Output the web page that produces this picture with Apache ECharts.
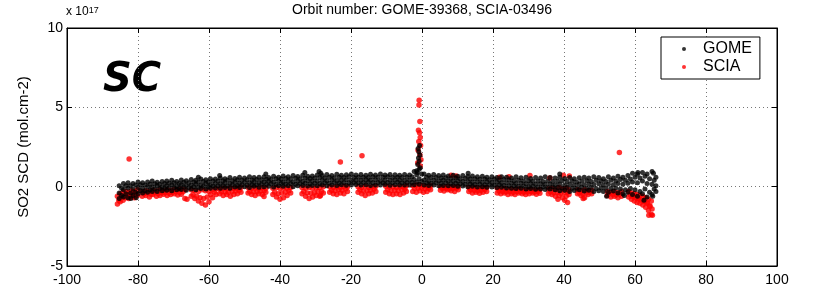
<!DOCTYPE html>
<html>
<head>
<meta charset="utf-8">
<script src="https://cdn.jsdelivr.net/npm/echarts@6/dist/echarts.min.js"></script>
<style>
  html, body { margin: 0; padding: 0; background: #fff; }
  #myChart { width: 814px; height: 291px; }
</style>
</head>
<body>
<div id="myChart"></div>
<script>
// SO2 slant columns (units of 1e17 mol.cm-2) against latitude
// GOME: rows of ground pixels (upper, middle, lower part of the band)
var gomeLat = [
  -85.3, -84.1, -82.8, -81.4, -80.0, -78.7, -77.3, -76.0, -74.6, -73.2,
  -71.9, -70.5, -69.1, -67.8, -66.4, -65.0, -63.7, -62.3, -60.9, -59.6,
  -58.2, -56.8, -55.5, -54.1, -52.7, -51.4, -50.0, -48.6, -47.3, -45.9,
  -44.5, -43.2, -41.8, -40.4, -39.1, -37.7, -36.3, -35.0, -33.6, -32.2,
  -30.9, -29.5, -28.1, -26.8, -25.4, -24.0, -22.7, -21.3, -19.9, -18.6,
  -17.2, -15.8, -14.5, -13.1, -11.7, -10.4, -9.0, -7.6, -6.3, -4.9,
  -3.5, -2.2, -0.8, 0.6, 1.9, 3.3, 4.7, 6.0, 7.4, 8.8,
  10.1, 11.5, 12.9, 14.2, 15.6, 17.0, 18.3, 19.7, 21.1, 22.4,
  23.8, 25.2, 26.5, 27.9, 29.3, 30.6, 32.0, 33.4, 34.7, 36.1,
  37.5, 38.8, 40.2, 41.6, 42.9, 44.3, 45.7, 47.0, 48.4, 49.8,
  51.1, 52.5, 53.9, 55.2, 56.6, 58.0, 59.3, 60.7, 62.1, 63.4,
  64.8, 65.9
];
var gomeHigh = [
  0.05, 0.2, 0.25, 0.2, 0.3, 0.25, 0.3, 0.35, 0.28, 0.33,
  0.35, 0.4, 0.33, 0.42, 0.38, 0.45, 0.4, 0.48, 0.43, 0.5,
  0.48, 0.55, 0.5, 0.58, 0.52, 0.6, 0.55, 0.62, 0.57, 0.6,
  0.63, 0.58, 0.66, 0.6, 0.68, 0.62, 0.7, 0.64, 0.72, 0.66,
  0.68, 0.74, 0.7, 0.76, 0.7, 0.78, 0.72, 0.75, 0.8, 0.73,
  0.76, 0.72, 0.78, 0.74, 0.8, 0.73, 0.77, 0.75, 0.72, 0.76,
  0.74, 0.95, 1.1, 0.8, 0.72, 0.76, 0.7, 0.74, 0.68, 0.72,
  0.66, 0.7, 0.64, 0.68, 0.62, 0.66, 0.6, 0.63, 0.58, 0.62,
  0.6, 0.55, 0.62, 0.56, 0.6, 0.52, 0.58, 0.55, 0.62, 0.58,
  0.55, 0.6, 0.52, 0.58, 0.5, 0.56, 0.6, 0.54, 0.62, 0.58,
  0.5, 0.62, 0.55, 0.66, 0.6, 0.7, 0.85, 0.78, 0.9, 0.8,
  0.95, 0.6
];
var gomeMid = [
  -0.4, -0.2, -0.1, -0.15, -0.05, -0.1, 0.0, -0.02, 0.05, 0.0,
  0.05, 0.1, 0.02, 0.12, 0.08, 0.1, 0.15, 0.1, 0.18, 0.12,
  0.2, 0.18, 0.25, 0.2, 0.26, 0.22, 0.28, 0.24, 0.3, 0.25,
  0.3, 0.32, 0.28, 0.35, 0.3, 0.34, 0.3, 0.36, 0.32, 0.38,
  0.38, 0.35, 0.4, 0.37, 0.42, 0.38, 0.4, 0.44, 0.39, 0.42,
  0.41, 0.44, 0.4, 0.43, 0.38, 0.42, 0.4, 0.44, 0.41, 0.39,
  0.4, 0.45, 0.5, 0.42, 0.38, 0.41, 0.37, 0.4, 0.36, 0.38,
  0.34, 0.32, 0.33, 0.3, 0.31, 0.28, 0.3, 0.26, 0.28, 0.25,
  0.24, 0.22, 0.2, 0.21, 0.18, 0.2, 0.16, 0.18, 0.15, 0.17,
  0.12, 0.15, 0.1, 0.14, 0.1, 0.16, 0.12, 0.15, 0.13, 0.18,
  0.1, 0.15, 0.12, 0.2, 0.15, 0.22, 0.3, 0.25, 0.35, 0.2,
  0.15, 0.05
];
var gomeLow = [
  -0.75, -0.65, -0.7, -0.55, -0.45, -0.4, -0.35, -0.3, -0.3, -0.25,
  -0.22, -0.25, -0.2, -0.18, -0.22, -0.15, -0.2, -0.12, -0.15, -0.1,
  -0.08, -0.1, -0.05, -0.1, -0.02, -0.06, 0.0, -0.05, 0.02, -0.03,
  0.0, 0.03, -0.02, 0.05, 0.02, 0.06, 0.0, 0.05, 0.08, 0.04,
  0.08, 0.05, 0.1, 0.06, 0.1, 0.08, 0.12, 0.09, 0.1, 0.13,
  0.1, 0.12, 0.08, 0.11, 0.1, 0.13, 0.09, 0.12, 0.1, 0.11,
  0.1, 0.12, 0.15, 0.1, 0.08, 0.1, 0.06, 0.08, 0.05, 0.07,
  0.02, 0.04, 0.0, 0.03, -0.02, 0.0, -0.04, -0.02, -0.06, -0.03,
  -0.08, -0.1, -0.12, -0.1, -0.15, -0.12, -0.16, -0.14, -0.18, -0.15,
  -0.2, -0.25, -0.22, -0.3, -0.24, -0.2, -0.28, -0.22, -0.3, -0.25,
  -0.3, -0.35, -0.28, -0.4, -0.45, -0.35, -0.5, -0.6, -0.45, -0.65,
  -0.5, -0.3
];
// second, staggered set of GOME pixels
var gomeLat2 = [
  -84.6, -83.4, -82.1, -80.7, -79.3, -78.0, -76.6, -75.3, -73.9, -72.5,
  -71.2, -69.8, -68.4, -67.1, -65.7, -64.3, -63.0, -61.6, -60.2, -58.9,
  -57.5, -56.1, -54.8, -53.4, -52.0, -50.7, -49.3, -47.9, -46.6, -45.2,
  -43.8, -42.5, -41.1, -39.7, -38.4, -37.0, -35.6, -34.3, -32.9, -31.5,
  -30.2, -28.8, -27.4, -26.1, -24.7, -23.3, -22.0, -20.6, -19.2, -17.9,
  -16.5, -15.1, -13.8, -12.4, -11.0, -9.7, -8.3, -6.9, -5.6, -4.2,
  -2.8, -1.5, -0.1, 1.3, 2.6, 4.0, 5.4, 6.7, 8.1, 9.5,
  10.8, 12.2, 13.6, 14.9, 16.3, 17.7, 19.0, 20.4, 21.8, 23.1,
  24.5, 25.9, 27.2, 28.6, 30.0, 31.3, 32.7, 34.1, 35.4, 36.8,
  38.2, 39.5, 40.9, 42.3, 43.6, 45.0, 46.4, 47.7, 49.1, 50.5,
  51.8, 53.2, 54.6, 55.9, 57.3, 58.7, 60.0, 61.4, 62.8, 64.1,
  65.4
];
var gomeUp2 = [
  -0.1, 0.05, 0.05, 0.1, 0.12, 0.1, 0.15, 0.18, 0.15, 0.2,
  0.22, 0.25, 0.2, 0.28, 0.25, 0.3, 0.28, 0.32, 0.3, 0.35,
  0.35, 0.38, 0.4, 0.37, 0.42, 0.4, 0.44, 0.42, 0.45, 0.43,
  0.47, 0.45, 0.5, 0.48, 0.52, 0.5, 0.53, 0.5, 0.55, 0.52,
  0.55, 0.58, 0.54, 0.6, 0.56, 0.6, 0.58, 0.62, 0.58, 0.6,
  0.6, 0.58, 0.62, 0.59, 0.6, 0.62, 0.58, 0.6, 0.57, 0.6,
  0.62, 0.75, 0.8, 0.6, 0.58, 0.57, 0.55, 0.56, 0.52, 0.54,
  0.5, 0.52, 0.48, 0.5, 0.46, 0.48, 0.44, 0.46, 0.42, 0.45,
  0.42, 0.38, 0.4, 0.36, 0.38, 0.34, 0.36, 0.33, 0.36, 0.32,
  0.34, 0.38, 0.32, 0.36, 0.3, 0.35, 0.38, 0.33, 0.4, 0.36,
  0.32, 0.4, 0.35, 0.45, 0.4, 0.48, 0.6, 0.55, 0.65, 0.5,
  0.4
];
var gomeDn2 = [
  -0.55, -0.45, -0.4, -0.35, -0.25, -0.25, -0.2, -0.15, -0.12, -0.1,
  -0.08, -0.05, -0.1, -0.02, -0.05, 0.0, -0.04, 0.02, 0.0, 0.04,
  0.05, 0.08, 0.06, 0.1, 0.08, 0.12, 0.1, 0.13, 0.12, 0.15,
  0.15, 0.18, 0.14, 0.2, 0.17, 0.2, 0.16, 0.2, 0.22, 0.19,
  0.22, 0.2, 0.25, 0.22, 0.26, 0.23, 0.26, 0.24, 0.27, 0.25,
  0.26, 0.28, 0.25, 0.27, 0.24, 0.27, 0.25, 0.28, 0.24, 0.26,
  0.26, 0.3, 0.32, 0.25, 0.22, 0.25, 0.22, 0.24, 0.2, 0.22,
  0.18, 0.16, 0.17, 0.14, 0.15, 0.12, 0.13, 0.1, 0.12, 0.08,
  0.06, 0.05, 0.02, 0.04, 0.0, 0.03, -0.02, 0.0, -0.03, 0.0,
  -0.05, -0.08, -0.06, -0.1, -0.08, -0.04, -0.1, -0.06, -0.12, -0.08,
  -0.1, -0.12, -0.08, -0.15, -0.2, -0.12, -0.2, -0.3, -0.15, -0.35,
  -0.15
];
// GOME volcanic spike near the equator and scattered single pixels
var gomeExtra = [
  [-1.5, 1.0], [-1.2, 1.4], [-1.0, 1.8], [-0.9, 2.2], [-0.7, 2.6], [-0.8, 1.6],
  [-0.5, 1.2], [-1.3, 0.9], [-0.6, 2.0], [-1.1, 2.4],
  [-29.0, 0.95], [-28.5, 0.85], [-33.0, 0.9], [-44.0, 0.8], [-63.0, 0.6], [-57.0, 0.7],
  [13.0, 0.85], [38.8, 0.8], [60.8, 0.9], [65.2, 0.85],
  [-82.0, -0.75], [-80.5, -0.7], [57.0, -0.55], [52.0, -0.6], [62.5, -0.85], [65.0, -0.6]
];

// SCIA: patches below the GOME band (upper and lower edge of each patch)
var sciaLat = [
  -85.8, -85.0, -84.2, -83.4, -82.6, -81.8, -81.0, -80.2,
  -78.8, -77.8, -76.8, -75.8, -74.8, -73.8, -72.8, -71.8, -70.8, -69.8, -68.8, -67.8, -66.8,
  -65.0, -64.0, -63.0, -62.0, -61.0, -60.0, -59.0, -58.0,
  -57.0, -56.0, -55.0, -54.0, -53.0, -52.0, -51.0,
  -49.0, -48.0, -47.0, -46.0, -45.0, -44.0,
  -42.0, -41.0, -40.0, -39.0, -38.0, -37.0,
  -33.8, -32.8, -31.8, -30.8, -29.8, -28.8, -27.8,
  -26.0, -25.0, -24.0, -23.0, -22.0, -21.0,
  -18.0, -17.0, -16.0, -15.0, -14.0, -13.0,
  -10.2, -9.2, -8.2, -7.2, -6.2, -5.2, -4.4,
  -2.6, -1.6, -0.6, 0.4, 1.4, 2.4,
  5.2, 6.2, 7.2, 8.2, 9.2, 10.2,
  13.2, 14.2, 15.2, 16.2, 17.2, 18.2,
  21.2, 22.2, 23.2, 24.2, 25.2, 26.2, 27.2, 28.2, 29.2, 30.2, 31.2, 32.2, 33.2,
  35.6, 36.6, 37.6, 38.6, 39.6, 40.6, 41.4,
  43.8, 44.8, 45.8, 46.8, 47.8,
  52.2, 53.2, 54.2, 55.2, 56.2,
  58.2, 59.0, 59.8, 60.6, 61.4, 62.2, 63.0, 63.8, 64.6
];
var sciaUp = [
  -0.6, -0.45, -0.35, -0.3, -0.35, -0.25, -0.3, -0.2,
  -0.3, -0.25, -0.3, -0.22, -0.28, -0.2, -0.25, -0.2, -0.22, -0.18, -0.2, -0.15, -0.2,
  -0.2, -0.25, -0.3, -0.2, -0.25, -0.3, -0.2, -0.15,
  -0.15, -0.1, -0.15, -0.08, -0.12, -0.1, -0.05,
  -0.05, -0.1, -0.08, -0.12, -0.05, -0.1,
  -0.1, -0.05, -0.12, -0.08, -0.1, -0.05,
  -0.05, -0.1, -0.05, -0.1, -0.08, -0.05, 0.0,
  0.0, -0.05, 0.0, -0.05, 0.02, 0.0,
  0.0, -0.05, 0.02, -0.05, 0.0, 0.02,
  0.02, -0.02, 0.0, -0.05, 0.0, -0.02, 0.05,
  0.05, 0.1, 0.1, 0.05, 0.02, 0.05,
  0.0, -0.02, 0.02, 0.0, -0.02, 0.0,
  -0.05, -0.08, -0.05, -0.1, -0.06, -0.05,
  -0.1, -0.15, -0.12, -0.18, -0.15, -0.2, -0.15, -0.2, -0.22, -0.18, -0.2, -0.22, -0.18,
  -0.15, -0.1, -0.2, -0.05, -0.15, -0.1, -0.2,
  -0.2, -0.25, -0.2, -0.28, -0.22,
  -0.3, -0.35, -0.3, -0.38, -0.32,
  -0.3, -0.4, -0.45, -0.5, -0.55, -0.6, -0.7, -0.8, -0.9
];
var sciaDown = [
  -1.1, -0.95, -0.85, -0.7, -0.75, -0.65, -0.7, -0.55,
  -0.6, -0.55, -0.65, -0.5, -0.6, -0.55, -0.48, -0.55, -0.5, -0.45, -0.52, -0.48, -0.75,
  -0.6, -0.75, -0.9, -1.05, -1.15, -0.95, -0.7, -0.5,
  -0.45, -0.55, -0.5, -0.6, -0.5, -0.45, -0.35,
  -0.4, -0.5, -0.55, -0.45, -0.5, -0.35,
  -0.5, -0.65, -0.8, -0.7, -0.55, -0.4,
  -0.45, -0.6, -0.75, -0.65, -0.55, -0.6, -0.4,
  -0.35, -0.45, -0.5, -0.4, -0.45, -0.3,
  -0.35, -0.45, -0.55, -0.45, -0.4, -0.3,
  -0.35, -0.45, -0.5, -0.45, -0.5, -0.4, -0.3,
  -0.3, -0.35, -0.25, -0.35, -0.3, -0.2,
  -0.22, -0.28, -0.2, -0.25, -0.3, -0.2,
  -0.3, -0.4, -0.35, -0.42, -0.35, -0.3,
  -0.4, -0.45, -0.4, -0.5, -0.45, -0.5, -0.4, -0.45, -0.5, -0.45, -0.4, -0.48, -0.42,
  -0.45, -0.5, -0.6, -0.55, -0.7, -0.6, -0.5,
  -0.45, -0.55, -0.7, -0.5, -0.45,
  -0.55, -0.65, -0.6, -0.7, -0.6,
  -0.65, -0.8, -0.9, -1.0, -1.05, -1.15, -1.3, -1.5, -1.75
];
// staggered middle row of each SCIA patch
var sciaLat2 = [
  -85.4, -84.6, -83.8, -83.0, -82.2, -81.4, -80.6,
  -78.3, -77.3, -76.3, -75.3, -74.3, -73.3, -72.3, -71.3, -70.3, -69.3, -68.3, -67.3,
  -64.5, -63.5, -62.5, -61.5, -60.5, -59.5, -58.5,
  -56.5, -55.5, -54.5, -53.5, -52.5, -51.5,
  -48.5, -47.5, -46.5, -45.5, -44.5,
  -41.5, -40.5, -39.5, -38.5, -37.5,
  -33.3, -32.3, -31.3, -30.3, -29.3, -28.3,
  -25.5, -24.5, -23.5, -22.5, -21.5,
  -17.5, -16.5, -15.5, -14.5, -13.5,
  -9.7, -8.7, -7.7, -6.7, -5.7, -4.8,
  -2.1, -1.1, -0.1, 0.9, 1.9,
  5.7, 6.7, 7.7, 8.7, 9.7,
  13.7, 14.7, 15.7, 16.7, 17.7,
  21.7, 22.7, 23.7, 24.7, 25.7, 26.7, 27.7, 28.7, 29.7, 30.7, 31.7, 32.7,
  36.1, 37.1, 38.1, 39.1, 40.1, 41.0,
  44.3, 45.3, 46.3, 47.3,
  52.7, 53.7, 54.7, 55.7,
  58.6, 59.4, 60.2, 61.0, 61.8, 62.6, 63.4, 64.2
];
var sciaMid = [
  -0.85, -0.7, -0.6, -0.5, -0.55, -0.45, -0.45,
  -0.45, -0.4, -0.48, -0.36, -0.44, -0.38, -0.36, -0.4, -0.36, -0.32, -0.36, -0.32,
  -0.5, -0.6, -0.7, -0.75, -0.65, -0.5, -0.35,
  -0.32, -0.33, -0.35, -0.3, -0.28, -0.22,
  -0.3, -0.32, -0.3, -0.28, -0.25,
  -0.35, -0.45, -0.4, -0.35, -0.25,
  -0.3, -0.4, -0.42, -0.38, -0.3, -0.3,
  -0.22, -0.25, -0.2, -0.22, -0.15,
  -0.2, -0.28, -0.25, -0.22, -0.15,
  -0.2, -0.25, -0.22, -0.25, -0.2, -0.15,
  -0.12, -0.1, -0.08, -0.15, -0.1,
  -0.12, -0.1, -0.14, -0.12, -0.1,
  -0.2, -0.22, -0.25, -0.22, -0.18,
  -0.28, -0.3, -0.32, -0.3, -0.35, -0.3, -0.32, -0.35, -0.32, -0.3, -0.34, -0.3,
  -0.3, -0.38, -0.35, -0.42, -0.38, -0.35,
  -0.38, -0.45, -0.4, -0.35,
  -0.45, -0.48, -0.52, -0.48,
  -0.5, -0.6, -0.7, -0.78, -0.85, -0.95, -1.05, -1.25
];
// SCIA spike, outliers and stray pixels above / below the band
var sciaExtra = [
  [-0.8, 5.45], [-0.85, 5.15], [-0.6, 4.1], [-1.0, 3.55], [-0.7, 3.4], [-0.5, 3.1],
  [-0.9, 2.85], [-0.4, 2.6], [-1.1, 2.3], [-0.6, 2.0], [-0.3, 1.7], [-1.2, 1.5], [-0.5, 1.3],
  [-82.5, 1.75], [-23.0, 1.55], [-16.9, 1.95], [55.6, 2.15],
  [8.2, 0.72], [9.6, 0.68], [21.8, 0.6], [24.5, 0.62], [30.4, 0.7], [36.0, 0.55],
  [39.8, 0.72], [41.5, 0.68],
  [-66.2, -0.8], [-44.5, -0.62], [-28.6, -0.55], [38.3, -0.8], [40.2, -0.85],
  [41.0, -1.0], [45.4, -0.75],
  [59.5, -0.6], [61.0, -0.75], [62.6, -0.9], [63.4, -1.0], [64.2, -1.2], [64.8, -1.4],
  [63.9, -1.8], [64.9, -1.8]
];

var gomeData = [];
gomeLat.forEach(function (lat, i) {
  gomeData.push([lat, gomeHigh[i]], [lat, gomeMid[i]], [lat, gomeLow[i]]);
});
gomeLat2.forEach(function (lat, i) {
  gomeData.push([lat, gomeUp2[i]], [lat, gomeDn2[i]]);
});
gomeData = gomeData.concat(gomeExtra);

var sciaData = [];
sciaLat.forEach(function (lat, i) {
  sciaData.push([lat, sciaUp[i]], [lat, sciaDown[i]]);
});
sciaLat2.forEach(function (lat, i) {
  sciaData.push([lat, sciaMid[i]]);
});
sciaData = sciaData.concat(sciaExtra);

var font = '"Liberation Sans", Arial, sans-serif';
var myChart = echarts.init(document.getElementById('myChart'));

// inner ticks on all four sides, box round the plot
var tickStyle = { show: true, inside: true, length: 5, lineStyle: { color: '#000' } };
var lineStyle = { show: true, onZero: false, lineStyle: { color: '#000' } };
var gridDots = { show: true, lineStyle: { color: '#777', type: [1, 3] } };

myChart.setOption({
  animation: false,
  backgroundColor: '#fff',
  grid: { left: 67, right: 37, top: 28, bottom: 25, show: true, borderColor: '#000', borderWidth: 1 },
  legend: {
    data: ['GOME', 'SCIA'],
    orient: 'vertical',
    left: 661, top: 37,
    backgroundColor: '#fff',
    borderColor: '#000', borderWidth: 1, borderRadius: 0,
    padding: [4, 8, 4, 21],
    itemGap: 2,
    itemWidth: 4, itemHeight: 4,
    icon: 'circle',
    textStyle: { fontFamily: font, fontSize: 16, color: '#000', padding: [0, 0, 0, 12] }
  },
  xAxis: [{
    type: 'value', min: -100, max: 100, interval: 20, position: 'bottom',
    axisLine: lineStyle, axisTick: tickStyle,
    axisLabel: { color: '#000', fontSize: 14, fontFamily: font, margin: 7 },
    splitLine: gridDots
  }, {
    type: 'value', min: -100, max: 100, interval: 20, position: 'top',
    axisLine: lineStyle, axisTick: tickStyle,
    axisLabel: { show: false }, splitLine: { show: false }
  }],
  yAxis: [{
    type: 'value', min: -5, max: 10, interval: 5, position: 'left',
    name: 'SO2 SCD (mol.cm-2)', nameLocation: 'middle', nameGap: 36, nameRotate: 90,
    nameTextStyle: { color: '#000', fontSize: 15, fontFamily: font },
    axisLine: lineStyle, axisTick: tickStyle,
    axisLabel: { color: '#000', fontSize: 14, fontFamily: font, margin: 4 },
    splitLine: gridDots
  }, {
    type: 'value', min: -5, max: 10, interval: 5, position: 'right',
    axisLine: lineStyle, axisTick: tickStyle,
    axisLabel: { show: false }, splitLine: { show: false }
  }],
  graphic: [
    { type: 'text', x: 422, y: 3,
      style: { text: 'Orbit number: GOME-39368, SCIA-03496', font: '14px ' + font, fill: '#000', align: 'center', textAlign: 'center' } },
    { type: 'text', left: 66, top: 6,
      style: { text: '{a|x 10}{b|17}', fill: '#000',
        rich: { a: { font: '12px ' + font, verticalAlign: 'bottom' }, b: { font: '9px ' + font, verticalAlign: 'top' } } } },
    { type: 'text', left: 103, top: 61,
      style: { text: 'SC', font: 'italic bold 40px "DejaVu Sans", sans-serif', fill: '#000' } }
  ],
  series: [{
    name: 'GOME', type: 'scatter', data: gomeData, z: 4,
    symbol: 'circle', symbolSize: 5,
    itemStyle: { color: '#000' }
  }, {
    name: 'SCIA', type: 'scatter', data: sciaData, z: 3,
    symbol: 'circle', symbolSize: 5.5,
    itemStyle: { color: '#ff0000' }
  }]
});
</script>
</body>
</html>
